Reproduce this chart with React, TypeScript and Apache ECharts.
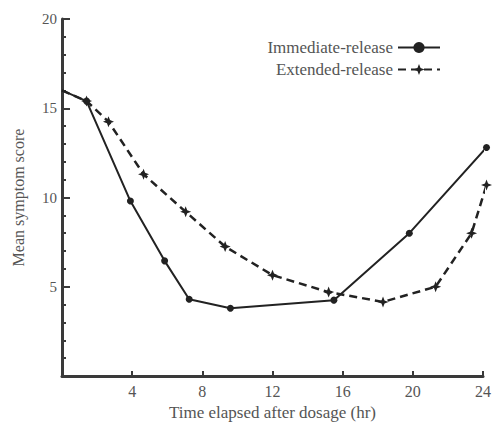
import React, { useEffect, useRef } from "react";
import * as echarts from "echarts";

const seriesNames = ["Immediate-release", "Extended-release"];
const irHours = [0, 1.4, 3.9, 5.85, 7.25, 9.6, 15.5, 19.8, 24.2];
const irScores = [16, 15.4, 9.8, 6.45, 4.3, 3.8, 4.25, 8.0, 12.8];
const erHours = [0, 1.4, 2.65, 4.65, 7.05, 9.3, 12.0, 15.2, 18.3, 21.3, 23.35, 24.2];
const erScores = [16, 15.4, 14.25, 11.3, 9.2, 7.25, 5.65, 4.7, 4.15, 5.0, 8.0, 10.7];
const xTicks = [0, 4, 8, 12, 16, 20, 24];
const yTicks = [0, 5, 10, 15, 20];

const FONT = "'Liberation Serif', 'DejaVu Serif', serif";
const INK = "#222";
const AXIS = "#3a3a3a";
const TEXT = "#555";
const STAR = "path://M0,-10 L2.8,-2.8 L10,0 L2.8,2.8 L0,10 L-2.8,2.8 L-10,0 L-2.8,-2.8 Z";

function toData(xs: number[], ys: number[]) {
  return xs.map((x, i) =>
    i === 0 ? { value: [x, ys[i]], symbol: "none" } : { value: [x, ys[i]] }
  );
}

export default function App() {
  const ref = useRef<HTMLDivElement>(null);
  useEffect(() => {
    if (!ref.current) return;
    const chart = echarts.init(ref.current, undefined, { renderer: "svg" });
    chart.setOption({
      animation: false,
      backgroundColor: "#fff",
      textStyle: { fontFamily: FONT },
      grid: { left: 62, right: 17, top: 19, bottom: 50, containLabel: false, outerBoundsMode: "none" },
      legend: {
        orient: "vertical",
        align: "right",
        right: 59,
        top: 39,
        padding: 0,
        itemWidth: 42,
        itemHeight: 14,
        itemGap: 5,
        textStyle: { fontFamily: FONT, fontSize: 17, color: TEXT },
        data: seriesNames,
      },
      xAxis: {
        type: "value",
        min: xTicks[0],
        max: xTicks[xTicks.length - 1],
        interval: 4,
        name: "Time elapsed after dosage (hr)",
        nameLocation: "middle",
        nameGap: 28,
        nameTextStyle: { fontFamily: FONT, fontSize: 17, color: TEXT },
        axisLine: { show: true, lineStyle: { color: AXIS, width: 3 } },
        axisTick: { show: true, inside: true, length: 5, lineStyle: { color: AXIS, width: 2 } },
        axisLabel: {
          fontFamily: FONT,
          fontSize: 16,
          color: TEXT,
          margin: 7,
          formatter: (v: number) => (v === 0 ? "" : String(v)),
        },
        splitLine: { show: false },
      },
      yAxis: {
        type: "value",
        min: yTicks[0],
        max: yTicks[yTicks.length - 1],
        interval: 5,
        name: "Mean symptom score",
        nameLocation: "middle",
        nameGap: 36,
        nameTextStyle: { fontFamily: FONT, fontSize: 16, color: TEXT },
        axisLine: { show: true, lineStyle: { color: AXIS, width: 3 } },
        axisTick: { show: true, inside: true, length: 8, lineStyle: { color: AXIS, width: 2 } },
        minorTick: { show: true, splitNumber: 5, length: 4, lineStyle: { color: AXIS, width: 2 } },
        axisLabel: {
          fontFamily: FONT,
          fontSize: 15,
          color: TEXT,
          margin: 5,
          formatter: (v: number) => (v === 0 ? "" : String(v)),
        },
        splitLine: { show: false },
        minorSplitLine: { show: false },
      },
      series: [
        {
          name: seriesNames[0],
          type: "line",
          clip: false,
          data: toData(irHours, irScores),
          symbol: "circle",
          symbolSize: 7,
          itemStyle: { color: INK },
          lineStyle: { color: INK, width: 2 },
        },
        {
          name: seriesNames[1],
          type: "line",
          clip: false,
          data: toData(erHours, erScores),
          symbol: STAR,
          symbolSize: 11,
          itemStyle: { color: INK },
          lineStyle: { color: INK, width: 2.5, type: [8, 5] },
        },
      ],
    });
    return () => chart.dispose();
  }, []);
  return <div ref={ref} style={{ width: 500, height: 426, position: "absolute", left: 0, top: 0 }} />;
}
